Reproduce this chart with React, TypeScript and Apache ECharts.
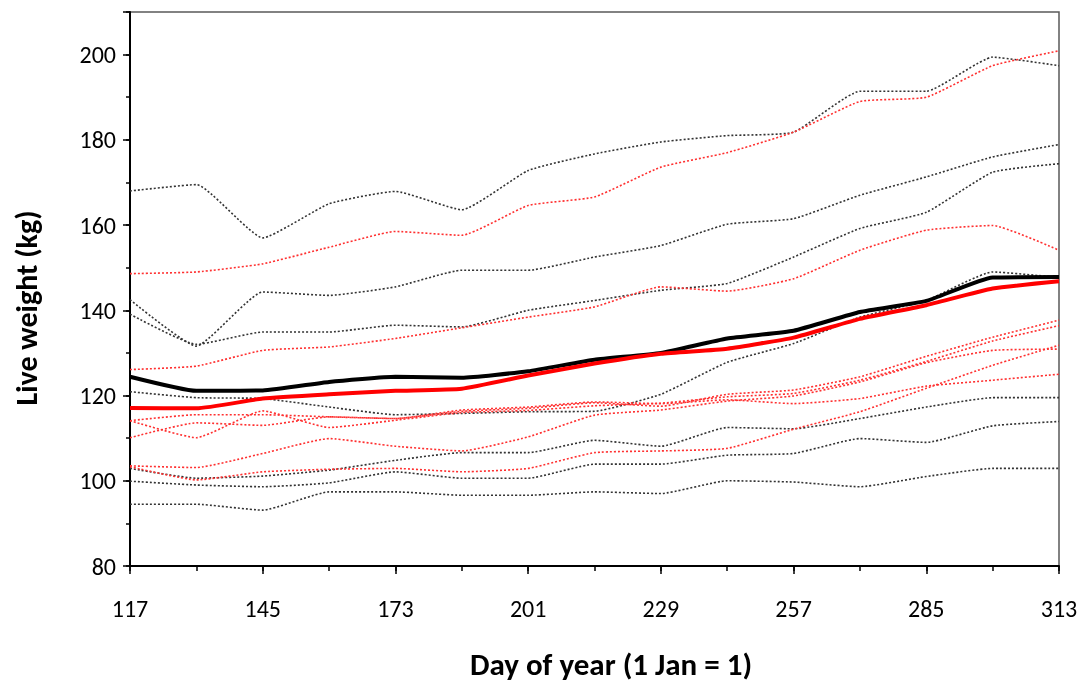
import React, { useEffect, useRef } from "react";
import * as echarts from "echarts";

const days = ["117", "131", "145", "159", "173", "187", "201", "215", "229", "243", "257", "271", "285", "299", "313"];

const blackMean = [124.4, 121.1, 121.2, 123.2, 124.4, 124.2, 125.7, 128.4, 130.0, 133.4, 135.2, 139.6, 142.2, 147.7, 147.8];
const redMean = [117.1, 117.0, 119.3, 120.3, 121.1, 121.6, 124.7, 127.5, 129.8, 131.0, 133.6, 138.0, 141.2, 145.1, 146.8];

const black1 = [168.0, 169.5, 157.0, 165.0, 167.9, 163.6, 172.8, 176.7, 179.5, 181.0, 181.8, 191.4, 191.4, 199.4, 197.4];
const black2 = [142.5, 131.6, 144.3, 143.5, 145.5, 149.4, 149.4, 152.5, 155.2, 160.2, 161.5, 167.0, 171.3, 176.0, 178.9];
const black3 = [139.1, 132.0, 134.9, 134.9, 136.5, 136.1, 140.0, 142.3, 144.7, 146.3, 152.5, 159.2, 163.0, 172.4, 174.4];
const black4 = [120.9, 119.5, 119.3, 117.3, 115.5, 115.8, 116.2, 116.3, 120.3, 127.8, 132.2, 138.4, 142.3, 149.0, 147.7];
const black5 = [102.9, 100.6, 101.1, 102.5, 104.8, 106.6, 106.6, 109.5, 108.1, 112.5, 112.2, 114.6, 117.3, 119.5, 119.5];
const black6 = [99.9, 99.0, 98.6, 99.5, 102.1, 100.6, 100.6, 103.9, 103.9, 106.0, 106.4, 109.9, 109.0, 112.9, 113.9];
const black7 = [94.5, 94.5, 93.1, 97.4, 97.4, 96.6, 96.6, 97.4, 97.0, 100.0, 99.7, 98.6, 101.0, 102.9, 102.9];

const red1 = [148.6, 149.0, 150.9, 154.8, 158.5, 157.6, 164.6, 166.6, 173.6, 177.0, 181.8, 189.0, 190.0, 197.4, 200.9];
const red2 = [126.1, 126.9, 130.6, 131.4, 133.4, 135.9, 138.4, 140.8, 145.5, 144.5, 147.4, 154.1, 158.8, 159.9, 154.1];
const red3 = [114.1, 115.5, 115.5, 115.0, 114.6, 116.3, 117.0, 118.3, 117.5, 120.3, 121.3, 124.4, 129.2, 133.7, 137.7];
const red4 = [114.1, 110.1, 116.4, 112.5, 114.2, 116.0, 116.5, 117.6, 118.2, 119.7, 120.5, 123.6, 128.0, 132.8, 136.4];
const red5 = [110.1, 113.6, 113.0, 115.0, 114.6, 116.6, 117.3, 118.5, 118.1, 119.0, 118.1, 119.3, 122.2, 123.6, 125.0];
const red6 = [103.5, 103.1, 106.4, 109.9, 108.1, 107.0, 110.3, 115.4, 116.6, 118.7, 119.9, 123.2, 127.7, 130.6, 130.9];
const red7 = [103.3, 100.2, 102.1, 102.7, 102.9, 102.1, 102.9, 106.6, 107.0, 107.6, 112.1, 116.2, 121.7, 127.1, 131.8];

const blackAnimals = [black1, black2, black3, black4, black5, black6, black7];
const redAnimals = [red1, red2, red3, red4, red5, red6, red7];

const xTitle = "Day of year (1 Jan = 1)";
const yTitle = "Live weight (kg)";

const FONT = "Carlito, Lato, sans-serif";

export default function App() {
  const ref = useRef<HTMLDivElement>(null);
  useEffect(() => {
    if (!ref.current) return;
    const chart = echarts.init(ref.current, null, { renderer: "svg" });
    const dotted = (data: number[], color: string) => ({
      type: "line",
      data,
      showSymbol: false,
      symbol: "none",
      smooth: 0.15,
      lineStyle: { color, width: 1.6, type: [2, 2] },
      z: 2,
    });
    const series: any[] = [
      ...blackAnimals.map((d) => dotted(d, "#333333")),
      ...redAnimals.map((d) => dotted(d, "#ff3030")),
      {
        type: "line",
        data: blackMean,
        symbol: "none",
        smooth: 0.15,
        lineStyle: { color: "#000", width: 4 },
        z: 3,
      },
      {
        type: "line",
        data: redMean,
        symbol: "none",
        smooth: 0.15,
        lineStyle: { color: "#ff0000", width: 4 },
        z: 4,
      },
    ];
    chart.setOption({
      animation: false,
      grid: {
        left: 130,
        right: 25,
        top: 12,
        bottom: 118,
        show: true,
        borderColor: "#595959",
        borderWidth: 1.5,
        backgroundColor: "transparent",
      },
      xAxis: [
        {
          type: "category",
          data: days,
          boundaryGap: false,
          position: "bottom",
          axisLine: { lineStyle: { color: "#000", width: 2 } },
          axisTick: { show: true, interval: 0, length: 5, lineStyle: { color: "#000", width: 1.5 } },
          axisLabel: { interval: 1, margin: 30, fontSize: 24, color: "#000", fontFamily: FONT },
          splitLine: { show: false },
        },
        {
          type: "category",
          data: days,
          boundaryGap: false,
          position: "bottom",
          axisLine: { show: false },
          axisTick: { show: true, interval: 1, length: 8, lineStyle: { color: "#000", width: 1.5 } },
          axisLabel: { show: false },
          splitLine: { show: false },
        },
      ],
      yAxis: [
        {
          type: "value",
          min: 80,
          max: 210,
          interval: 10,
          position: "left",
          axisLine: { show: true, lineStyle: { color: "#000", width: 2 } },
          axisTick: { show: true, length: 4, lineStyle: { color: "#000", width: 1.5 } },
          axisLabel: {
            margin: 14,
            fontSize: 24,
            color: "#000",
            fontFamily: FONT,
            formatter: (v: number) => (v % 20 === 0 && v <= 200 ? String(v) : ""),
          },
          splitLine: { show: false },
        },
        {
          type: "value",
          min: 80,
          max: 210,
          interval: 20,
          position: "left",
          axisLine: { show: false },
          axisTick: { show: true, length: 7, lineStyle: { color: "#000", width: 1.5 } },
          axisLabel: { show: false },
          splitLine: { show: false },
        },
      ],
      graphic: [
        {
          type: "text",
          x: 611,
          y: 664,
          style: {
            text: xTitle,
            font: `bold 31px ${FONT}`,
            fill: "#000",
            textAlign: "center",
            textVerticalAlign: "middle",
          },
        },
        {
          type: "text",
          x: 26,
          y: 308,
          rotation: Math.PI / 2,
          style: {
            text: yTitle,
            font: `bold 30px ${FONT}`,
            fill: "#000",
            textAlign: "center",
            textVerticalAlign: "middle",
          },
        },
      ],
      series,
    });
    return () => chart.dispose();
  }, []);
  return (
    <div
      ref={ref}
      style={{ position: "fixed", left: 0, top: 0, width: 1084, height: 684 }}
    />
  );
}
